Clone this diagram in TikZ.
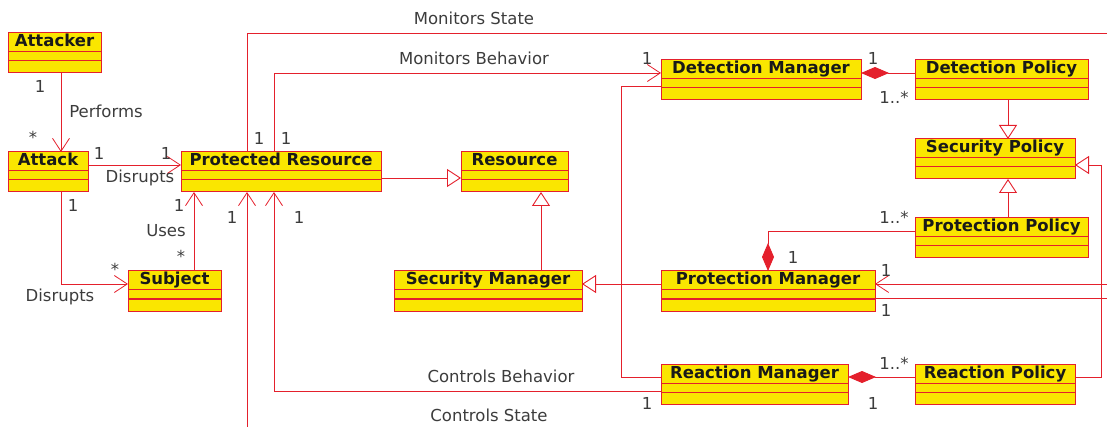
\documentclass[tikz,border=0pt]{standalone}
\usepackage{fontspec}
\setmainfont{DejaVu Sans}
\usetikzlibrary{arrows.meta}
\definecolor{umlred}{RGB}{228,32,44}
\definecolor{umlyellow}{RGB}{250,230,0}
\definecolor{lblgray}{RGB}{60,60,60}
\begin{document}
\begin{tikzpicture}[x=1pt,y=-1pt,
	cls/.style={draw=umlred,fill=umlyellow,line width=1pt,anchor=north west,inner sep=0pt,outer sep=0pt,
		minimum height=40pt,text height=14pt,text depth=26pt,text=black!90,
		font=\fontsize{16.5}{18}\selectfont\bfseries},
	con/.style={draw=umlred,line width=0.9pt},
	assoc/.style={con,-{Straight Barb[length=13pt,width=17pt,line width=0.8pt]}},
	gen/.style={con,-{Triangle[open,length=14pt,width=18pt,fill=white]}},
	comp/.style={con,{Diamond[length=28pt,width=12pt]}-},
	lbl/.style={text=lblgray,inner sep=0pt,font=\fontsize{16.5}{18}\selectfont}]
	\useasboundingbox (0,0) rectangle (1107,427);

	% classes
	\node[cls,minimum width=93pt] (attacker) at (8,33) {Attacker};
	\node[cls,minimum width=80pt] (attack) at (8,152) {Attack};
	\node[cls,minimum width=200pt] (pr) at (181,152) {Protected Resource};
	\node[cls,minimum width=107pt] (res) at (461,152) {Resource};
	\node[cls,minimum width=93pt] (subject) at (128,271) {Subject};
	\node[cls,minimum width=188pt] (secman) at (394,271) {Security Manager};
	\node[cls,minimum width=200pt] (detman) at (661,60) {Detection Manager};
	\node[cls,minimum width=173pt] (detpol) at (915,60) {Detection Policy};
	\node[cls,minimum width=160pt] (secpol) at (915,139) {Security Policy};
	\node[cls,minimum width=173pt] (protpol) at (915,218) {Protection Policy};
	\node[cls,minimum width=214pt] (protman) at (661,271) {Protection Manager};
	\node[cls,minimum width=187pt] (reactman) at (661,364) {Reaction Manager};
	\node[cls,minimum width=160pt] (reactpol) at (915,364) {Reaction Policy};

	% compartments
	\foreach \c in {attacker,attack,pr,res,subject,secman,detman,detpol,secpol,protpol,protman,reactman,reactpol}
		\draw[umlred,line width=1pt] ([yshift=-19pt]\c.north west) -- ([yshift=-19pt]\c.north east)
			([yshift=-28pt]\c.north west) -- ([yshift=-28pt]\c.north east);

	% free ends at the picture edge
	\coordinate (msEnd) at (1107,33);
	\coordinate (csEnd) at (247,427);
	\coordinate (pmEndA) at (1107,284);
	\coordinate (pmEndB) at (1107,298);

	% associations
	\draw[assoc] ([xshift=53pt]attacker.south west) -- ([xshift=53pt]attack.north west);
	\draw[assoc] ([yshift=-13pt]attack.north east) -- ([yshift=-13pt]pr.north west);
	\draw[assoc] ([xshift=53pt]attack.south west) |- ([yshift=-13pt]subject.north west);
	\draw[assoc] ([xshift=66pt]subject.north west) -- ([xshift=13pt]pr.south west);
	\draw[assoc] ([xshift=93pt]pr.north west) |- ([yshift=-13pt]detman.north west);
	\draw[con] ([xshift=66pt]pr.north west) |- (msEnd);
	\draw[assoc] ([yshift=-27pt]reactman.north west) -| ([xshift=93pt]pr.south west);
	\draw[assoc] (csEnd) -- ([xshift=66pt]pr.south west);
	\draw[assoc] (pmEndA) -- ([yshift=-13pt]protman.north east);
	\draw[con] ([yshift=-27pt]protman.north east) -- (pmEndB);

	% generalizations
	\draw[gen] ([yshift=-26pt]pr.north east) -- ([yshift=-26pt]res.north west);
	\draw[gen] ([xshift=147pt]secman.north west) -- ([xshift=80pt]res.south west);
	\draw[gen] ([yshift=-13pt]protman.north west) -- ([yshift=-13pt]secman.north east);
	\draw[con] ([yshift=-26pt]detman.north west) -- ++(-40,0) |- ([yshift=-13pt]reactman.north west);
	\draw[gen] ([xshift=93pt]detpol.south west) -- ([xshift=93pt]secpol.north west);
	\draw[gen] ([xshift=93pt]protpol.north west) -- ([xshift=93pt]secpol.south west);
	\draw[gen] ([yshift=-13pt]reactpol.north east) -- ++(26,0) |- ([yshift=-26pt]secpol.north east);

	% compositions
	\draw[comp] ([yshift=-13pt]detman.north east) -- ([yshift=-13pt]detpol.north west);
	\draw[comp] ([xshift=107pt]protman.north west) |- ([yshift=-13pt]protpol.north west);
	\draw[comp] ([yshift=-13pt]reactman.north east) -- ([yshift=-13pt]reactpol.north west);

	% labels
	\node[lbl] (mA) at (40,86) {1};
	\node[lbl] (performs) at (106,111) {Performs};
	\node[lbl] (mB) at (33,137) {*};
	\node[lbl] (mC) at (99,153) {1};
	\node[lbl] (mD) at (166,153) {1};
	\node[lbl] (disruptsA) at (140,178) {Disrupts};
	\node[lbl] (mE) at (73,205) {1};
	\node[lbl] (mF) at (115,269) {*};
	\node[lbl] (disruptsB) at (60,297) {Disrupts};
	\node[lbl] (mG) at (179,205) {1};
	\node[lbl] (uses) at (166,231) {Uses};
	\node[lbl] (mH) at (181,256) {*};
	\node[lbl] (mI) at (232,217) {1};
	\node[lbl] (mJ) at (299,217) {1};
	\node[lbl] (mK) at (259,138) {1};
	\node[lbl] (mL) at (286,138) {1};
	\node[lbl] (monState) at (474,18) {Monitors State};
	\node[lbl] (monBeh) at (474,58) {Monitors Behavior};
	\node[lbl] (mM) at (647,58) {1};
	\node[lbl] (mN) at (873,58) {1};
	\node[lbl] (mO) at (894,97) {1..*};
	\node[lbl] (mP) at (894,217) {1..*};
	\node[lbl] (mQ) at (793,257) {1};
	\node[lbl] (mR) at (886,270) {1};
	\node[lbl] (mS) at (886,310) {1};
	\node[lbl] (mT) at (894,363) {1..*};
	\node[lbl] (mU) at (873,403) {1};
	\node[lbl] (ctrlBeh) at (501,376) {Controls Behavior};
	\node[lbl] (mV) at (647,403) {1};
	\node[lbl] (ctrlState) at (489,415) {Controls State};
\end{tikzpicture}
\end{document}
